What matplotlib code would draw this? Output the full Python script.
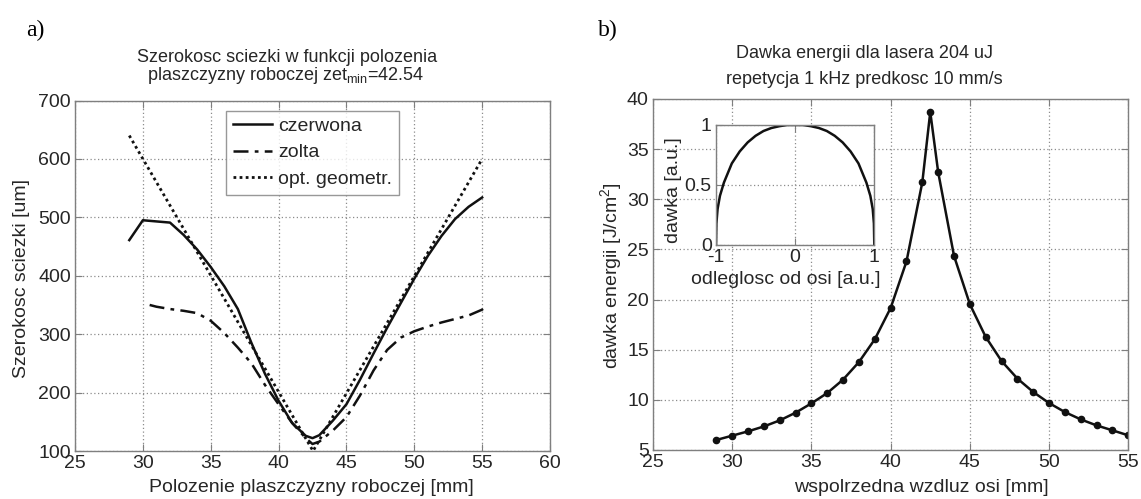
import matplotlib
matplotlib.use("Agg")
import matplotlib.pyplot as plt

plt.rcParams['font.family'] = ['Liberation Sans', 'DejaVu Sans']
plt.rcParams['mathtext.fontset'] = 'custom'
plt.rcParams['mathtext.rm'] = 'Liberation Sans'
plt.rcParams['mathtext.it'] = 'Liberation Sans'

# ---------------- data: panel a ----------------
x_czerwona = [29, 30, 31, 32, 33, 34, 35, 36, 37, 38, 39, 40, 41, 42, 42.5, 43, 44, 45,
              46, 47, 48, 49, 50, 51, 52, 53, 54, 55]
y_czerwona = [461, 495, 493, 491, 470, 445, 415, 382, 343, 285, 232, 186, 148, 126, 122, 127, 152, 180,
              222, 267, 311, 353, 395, 434, 468, 497, 518, 534]

x_zolta = [30.5, 31, 32, 33, 34, 35, 36, 37, 38, 39, 40, 41, 42, 42.5, 43, 44, 45,
           46, 47, 48, 49, 50, 51, 52, 53, 54, 55, 55.4]
y_zolta = [350, 347, 343, 340, 336, 323, 302, 277, 250, 213, 180, 148, 122, 112, 116, 135, 158,
           195, 238, 273, 294, 305, 313, 320, 326, 332, 342, 350]

x_opt = [29, 42.54, 55]
y_opt = [640, 100, 600]

# ---------------- data: panel b ----------------
x_dawka = [29, 30, 31, 32, 33, 34, 35, 36, 37, 38, 39, 40, 41, 42, 42.5, 43, 44, 45,
           46, 47, 48, 49, 50, 51, 52, 53, 54, 55]
y_dawka = [6.0, 6.43, 6.86, 7.35, 7.95, 8.72, 9.65, 10.68, 12.02, 13.77, 16.04, 19.16, 23.8, 31.7,
           38.7, 32.7, 24.35, 19.53, 16.27, 13.87, 12.12, 10.78, 9.68, 8.78, 8.05, 7.45, 6.96, 6.46]

x_inset = [-1, -0.995, -0.98, -0.95, -0.9, -0.8, -0.7, -0.6, -0.5, -0.4, -0.3, -0.2, -0.1, 0,
           0.1, 0.2, 0.3, 0.4, 0.5, 0.6, 0.7, 0.8, 0.9, 0.95, 0.98, 0.995, 1]
y_inset = [0, 0.18, 0.3, 0.41, 0.52, 0.68, 0.78, 0.855, 0.91, 0.95, 0.975, 0.99, 1.0, 1.0,
           1.0, 0.99, 0.975, 0.95, 0.91, 0.855, 0.78, 0.68, 0.52, 0.41, 0.3, 0.18, 0]

# ---------------- styling ----------------
W, H = 1141, 499
TXT = '#262626'
SPINE = '#7f7f7f'
GRID = '#8c8c8c'
LINE = '#111111'
FS = 14
FT = 13


def px_axes(fig, x0, y0, x1, y1):
    return fig.add_axes([x0 / W, 1 - y1 / H, (x1 - x0) / W, (y1 - y0) / H])


def style(ax, fs=FS):
    for s in ax.spines.values():
        s.set_color(SPINE)
        s.set_linewidth(1.0)
    ax.tick_params(direction='in', length=5, width=0.8, colors=SPINE,
                   labelcolor=TXT, labelsize=fs, top=True, right=True, pad=3)
    ax.grid(True, linestyle=(0, (1, 2)), color=GRID, linewidth=0.9)
    ax.set_axisbelow(True)


fig = plt.figure(figsize=(W / 100, H / 100), dpi=100)

# ---------------- panel a ----------------
ax1 = px_axes(fig, 75, 100.5, 550, 451)
style(ax1)
ax1.plot(x_czerwona, y_czerwona, color=LINE, lw=1.8, ls='-', label='czerwona')
ax1.plot(x_zolta, y_zolta, color=LINE, lw=1.8, ls=(0, (6, 2.5, 1.5, 2.5)), label='zolta')
ax1.plot(x_opt, y_opt, color=LINE, lw=2.0, ls=(0, (1, 1.2)), label='opt. geometr.')
ax1.set_xlim(25, 60)
ax1.set_ylim(100, 700)
ax1.set_xticks([25, 30, 35, 40, 45, 50, 55, 60])
ax1.set_yticks([100, 200, 300, 400, 500, 600, 700])
leg = ax1.legend(loc='upper center', bbox_to_anchor=(0.5, 0.982), fontsize=FS,
                 frameon=True, fancybox=False, handlelength=2.0, handletextpad=0.3,
                 borderpad=0.35, labelspacing=0.45, borderaxespad=0.2)
leg.get_frame().set_edgecolor(SPINE)
leg.get_frame().set_linewidth(1.0)
for t in leg.get_texts():
    t.set_color(TXT)

fig.text(287 / W, 1 - 58 / H, 'Szerokosc sciezki w funkcji polozenia', ha='center', va='center',
         fontsize=FT, color=TXT)
fig.text(286 / W, 1 - 75 / H, r'plaszczyzny roboczej zet$_{\mathrm{min}}$=42.54', ha='center',
         va='center', fontsize=FT, color=TXT)
fig.text(311 / W, 1 - 487 / H, 'Polozenie plaszczyzny roboczej [mm]', ha='center', va='center',
         fontsize=FS, color=TXT)
fig.text(22 / W, 1 - 278 / H, 'Szerokosc sciezki [um]', ha='center', va='center',
         rotation=90, fontsize=FS, color=TXT)
fig.text(35 / W, 1 - 30 / H, 'a)', ha='center', va='center', fontsize=17,
         family=['Liberation Serif', 'DejaVu Serif'], color='black')

# ---------------- panel b ----------------
ax2 = px_axes(fig, 653, 98.9, 1128.3, 450)
style(ax2)
ax2.plot(x_dawka, y_dawka, color=LINE, lw=1.8, marker='o', markersize=4.5)
ax2.set_xlim(25, 55)
ax2.set_ylim(5, 40)
ax2.set_xticks([25, 30, 35, 40, 45, 50, 55])
ax2.set_yticks([5, 10, 15, 20, 25, 30, 35, 40])

fig.text(865 / W, 1 - 54 / H, 'Dawka energii dla lasera 204 uJ', ha='center', va='center',
         fontsize=FT, color=TXT)
fig.text(864 / W, 1 - 79 / H, 'repetycja 1 kHz predkosc 10 mm/s', ha='center', va='center',
         fontsize=FT, color=TXT)
fig.text(921 / W, 1 - 487 / H, 'wspolrzedna wzdluz osi [mm]', ha='center', va='center',
         fontsize=FS, color=TXT)
fig.text(611 / W, 1 - 276 / H, r'dawka energii [J/cm$^{2}$]', ha='center', va='center',
         rotation=90, fontsize=FS, color=TXT)
fig.text(608 / W, 1 - 30 / H, 'b)', ha='center', va='center', fontsize=17,
         family=['Liberation Serif', 'DejaVu Serif'], color='black')

# ---------------- inset ----------------
ax3 = px_axes(fig, 716, 125, 874.3, 245)
ax3.set_facecolor('white')
style(ax3)
ax3.plot(x_inset, y_inset, color=LINE, lw=1.8)
ax3.set_xlim(-1, 1)
ax3.set_ylim(0, 1)
ax3.set_xticks([-1, 0, 1])
ax3.set_yticks([0, 0.5, 1])
ax3.set_xticklabels(['-1', '0', '1'])
ax3.set_yticklabels(['0', '0.5', '1'])
fig.text(786 / W, 1 - 279 / H, 'odleglosc od osi [a.u.]', ha='center', va='center',
         fontsize=FS, color=TXT)
fig.text(673 / W, 1 - 190 / H, 'dawka [a.u.]', ha='center', va='center',
         rotation=90, fontsize=FS, color=TXT)

fig.savefig('out.png', dpi=100)
